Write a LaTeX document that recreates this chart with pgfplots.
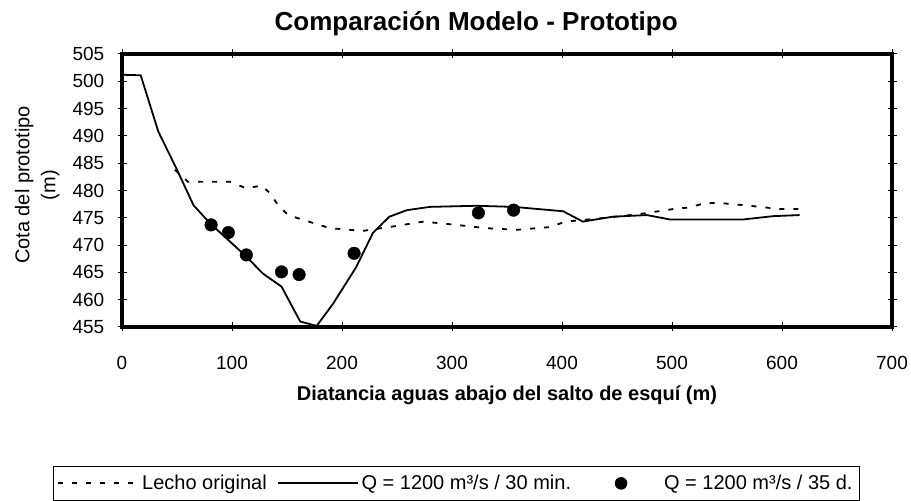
\documentclass[border=0pt]{standalone}
\usepackage{pgfplots}
\pgfplotsset{compat=1.18}
\usepackage{fontspec}
\setmainfont{Liberation Sans}
\pgfplotsset{
  longline/.style={legend image code/.code={\draw[##1] (0pt,0pt) -- (80pt,0pt);}},
  midmark/.style={legend image code/.code={\path[draw=none,fill=none] (0pt,-1pt) rectangle (80pt,1pt);\fill[black,draw=none] (40pt,0pt) circle (6.3pt);}},
}
\begin{document}
\begin{tikzpicture}
\begin{axis}[
  scale only axis, width=770pt, height=273pt,
  xmin=0, xmax=700, ymin=455, ymax=505,
  clip=false,
  xtick={0,100,...,700}, ytick={455,460,...,505},
  /pgf/number format/assume math mode=true,
  /pgf/number format/set thousands separator={},
  tick align=center, major tick length=9pt,
  tick style={black, line width=1pt},
  axis line style={line width=3.5pt},
  ticklabel style={font=\fontsize{19}{22}\selectfont},
  xticklabel style={anchor=north, inner sep=0pt, yshift=-25pt},
  yticklabel style={anchor=east, inner sep=0pt, xshift=-13pt},
  legend columns=3,
  legend style={at={(axis description cs:-0.0896,-0.509)}, anchor=north west,
    draw=black, line width=0.8pt, font=\fontsize{20}{24}\selectfont,
    inner xsep=4pt, inner ysep=4pt,
    nodes={inner xsep=3pt, inner ysep=5pt},
    /tikz/every even column/.append style={column sep=7pt}},
]
\addplot[black, line width=1.8pt, dash pattern=on 5pt off 9pt, longline]
  coordinates {
  (48,483.8) (60,481.6) (98,481.6) (113,480.4) (127,480.9) (134.5,479.5)
  (142,477.3) (151,475.5) (165,474.6) (189,473.1) (219,472.6) (246,473.4)
  (274,474.3) (304,473.7) (331,473.1) (359,472.8) (389,473.3) (403,474.3)
  (440,475.0) (471,475.7) (484.5,476.1) (501,476.6) (516,476.9) (530,477.7)
  (544,477.7) (571,477.2) (598,476.6) (616,476.6)
  };
\addlegendentry{Lecho original}
\addplot[black, line width=1.8pt, longline]
  coordinates {
  (0,501.2) (17,501.1) (33,490.8) (50,483.8) (65,477.3) (80,474)
  (113,467.9) (128,464.8) (145,462.4) (162,456) (177,455.2) (192,459.3)
  (213,466) (228,472.2) (243,475.2) (259,476.4) (280,477) (322,477.2)
  (356,477) (401,476.2) (419,474.3) (446,475.2) (477,475.5) (498,474.7)
  (565,474.7) (592,475.3) (616,475.5)
  };
\addlegendentry{Q = 1200 m³/s / 30 min.}
\addplot[only marks, mark=*, mark size=6.3pt, black, midmark]
  coordinates {
  (81,473.7) (96.7,472.3) (113,468.2) (145,465.1) (161,464.6) (211,468.5)
  (324,475.9) (356,476.4)
  };
\addlegendentry{Q = 1200 m³/s / 35 d.}
\node[font=\bfseries\fontsize{26}{31}\selectfont] at (axis description cs:0.46,1.11) {Comparación Modelo - Prototipo};
\node[font=\bfseries\fontsize{20}{24}\selectfont] at (axis description cs:0.5,-0.249) {Diatancia aguas abajo del salto de esquí (m)};
\node[rotate=90, align=center, font=\fontsize{20}{26}\selectfont] at (axis description cs:-0.11,0.52) {Cota del prototipo\\(m)};
\path (axis description cs:-0.15844,-0.63004) rectangle (axis description cs:1.02468,1.19780);
\end{axis}
\end{tikzpicture}
\end{document}
